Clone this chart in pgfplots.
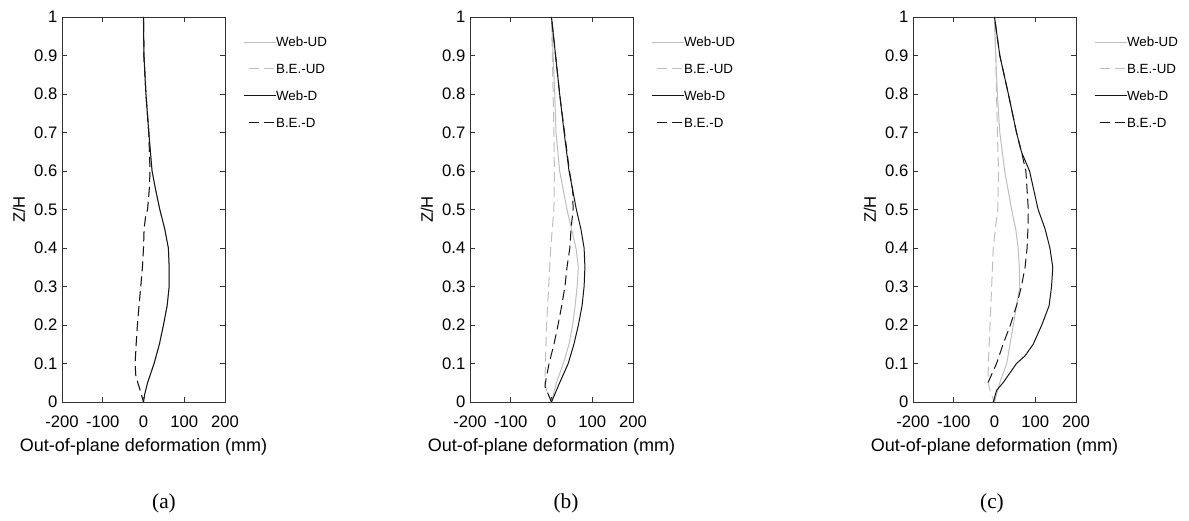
\documentclass[border=0pt]{standalone}
\usepackage{fontspec}
\setmainfont{Liberation Sans}
\newfontfamily\capfont{Liberation Serif}
\usepackage{pgfplots}
\pgfplotsset{compat=1.18}
\definecolor{lg}{RGB}{190,190,190}
\definecolor{dk}{RGB}{20,20,20}
\definecolor{ax}{RGB}{50,50,50}

\pgfplotsset{
 panel/.style={
  scale only axis, width=122.25pt, height=288.75pt,
  xmin=-200,xmax=200,ymin=0,ymax=1,
  xtick={-200,-100,0,100,200},
  ytick={0,0.1,0.2,0.3,0.4,0.5,0.6,0.7,0.8,0.9,1},
  yticklabels={0,0.1,0.2,0.3,0.4,0.5,0.6,0.7,0.8,0.9,1},
  tick align=inside, major tick length=3.5pt,
  xtick pos=both, ytick pos=both, xticklabel pos=lower, yticklabel pos=left,
  axis line style={draw=ax, line width=0.6pt},
  every tick/.style={ax, line width=0.6pt},
  /pgf/number format/assume math mode=true,
  ticklabel style={font=\fontsize{12.5}{14}\selectfont},
  xticklabel style={inner sep=1pt, yshift=-9pt},
  xlabel={Out-of-plane deformation (mm)},
  xlabel style={font=\fontsize{13.5}{16}\selectfont, at={(axis description cs:0.5,0)}, anchor=center, yshift=-34pt},
  ylabel={Z/H},
  ylabel style={font=\fontsize{12.5}{14}\selectfont},
  legend style={draw=none, fill=none, font=\fontsize{10}{12}\selectfont,
     at={(axis description cs:1.085,0.955)}, anchor=north west,
     nodes={inner sep=0pt, text height=7.2pt, text depth=0pt},
     row sep=13pt},
  legend cell align=left,
  legend image code/.code={\draw[##1] (0pt,0pt) -- (24pt,0pt);},
 },
 wud/.style={lg, line width=0.75pt},
 beud/.style={lg, line width=0.75pt, dash pattern=on 7.5pt off 3.75pt, dash phase=7.5pt},
 wd/.style={dk, line width=0.75pt},
 bed/.style={dk, line width=0.75pt, dash pattern=on 7.5pt off 3.75pt, dash phase=7.5pt},
}

\begin{document}
\begin{tikzpicture}
\path[use as bounding box] (0,0) rectangle (891.75pt,390.75pt);

% ---------------- (a) ----------------
\begin{axis}[panel, at={(46.5pt,89.25pt)}, anchor=south west]
\addplot[wud] coordinates {(0,1)(1,0.9)(6,0.8)(13,0.7)(21,0.6)(30,0.55)(40,0.5)(52,0.45)(61,0.4)(63,0.35)(63,0.3)(58,0.25)(49,0.2)(39,0.15)(26,0.1)(10,0.05)(3,0.02)(0,0)};
\addlegendentry{Web-UD}
\addplot[beud] coordinates {(0,1)(1,0.9)(6,0.8)(13,0.7)(16,0.6)(14,0.55)(10,0.5)(5,0.48)(1.5,0.45)(0,0.4)(-2.6,0.35)(-6.7,0.3)(-11,0.25)(-15,0.2)(-18,0.15)(-20.6,0.1)(-19,0.07)(-14,0.05)(-8,0.03)(0,0)};
\addlegendentry{B.E.-UD}
\addplot[wd] coordinates {(0,1)(1,0.9)(6,0.8)(13,0.7)(21,0.6)(30,0.55)(40,0.5)(52,0.45)(61,0.4)(63,0.35)(63,0.3)(58,0.25)(49,0.2)(39,0.15)(26,0.1)(10,0.05)(3,0.02)(0,0)};
\addlegendentry{Web-D}
\addplot[bed] coordinates {(0,1)(1,0.9)(6,0.8)(13,0.7)(16,0.6)(14,0.55)(10,0.5)(5,0.48)(1.5,0.45)(0,0.4)(-2.6,0.35)(-6.7,0.3)(-11,0.25)(-15,0.2)(-18,0.15)(-20.6,0.1)(-19,0.07)(-14,0.05)(-8,0.03)(0,0)};
\addlegendentry{B.E.-D}
\end{axis}

% ---------------- (b) ----------------
\begin{axis}[panel, at={(352.5pt,89.25pt)}, anchor=south west]
\addplot[wud] coordinates {(0,1)(4,0.9)(8,0.8)(11,0.7)(20,0.6)(38,0.5)(49,0.45)(60,0.4)(66,0.35)(63,0.3)(58,0.25)(52,0.2)(43,0.15)(29,0.1)(12,0.05)(0,0)};
\addlegendentry{Web-UD}
\addplot[beud] coordinates {(0,1)(2,0.9)(4,0.8)(6,0.7)(7,0.6)(6,0.5)(2,0.45)(-2,0.4)(-7,0.3)(-12,0.2)(-15,0.1)(-16,0.05)(-12,0.03)(0,0)};
\addlegendentry{B.E.-UD}
\addplot[wd] coordinates {(0,1)(10,0.9)(20,0.8)(31,0.7)(43,0.6)(61,0.5)(72,0.45)(80,0.4)(82,0.35)(80,0.3)(75,0.25)(66,0.2)(55,0.15)(41,0.1)(20,0.05)(0,0)};
\addlegendentry{Web-D}
\addplot[bed] coordinates {(0,1)(10,0.9)(20,0.8)(32,0.7)(44,0.6)(52,0.55)(53,0.5)(48,0.45)(45,0.4)(38,0.35)(33,0.3)(25,0.25)(16,0.2)(6,0.15)(-6,0.1)(-15,0.05)(-16,0.04)(-8,0.02)(0,0)};
\addlegendentry{B.E.-D}
\end{axis}

% ---------------- (c) ----------------
\begin{axis}[panel, at={(684.75pt,89.25pt)}, anchor=south west]
\addplot[wud] coordinates {(0,1)(3,0.9)(7,0.8)(13,0.7)(25,0.6)(42,0.5)(52,0.45)(58,0.4)(61,0.35)(62,0.3)(54,0.25)(46,0.2)(38,0.15)(30,0.1)(13,0.05)(0,0)};
\addlegendentry{Web-UD}
\addplot[beud] coordinates {(0,1)(3,0.9)(5,0.8)(7,0.7)(10,0.6)(8,0.5)(2,0.45)(-3,0.4)(-7,0.3)(-11,0.2)(-15,0.1)(-16,0.05)(-8,0.02)(0,0)};
\addlegendentry{B.E.-UD}
\addplot[wd] coordinates {(0,1)(13,0.9)(34,0.8)(54,0.7)(66,0.65)(86,0.6)(107,0.5)(124,0.45)(136,0.4)(143,0.35)(140,0.3)(134,0.25)(116,0.2)(95,0.15)(75,0.12)(54,0.1)(21,0.05)(5,0.03)(-3,0)};
\addlegendentry{Web-D}
\addplot[bed] coordinates {(0,1)(13,0.9)(34,0.8)(54,0.7)(66,0.65)(77,0.6)(80,0.55)(83,0.5)(82,0.45)(80,0.4)(75,0.35)(66,0.3)(54,0.25)(39,0.2)(21,0.15)(5,0.1)(-16,0.05)(-21,0.04)};
\addlegendentry{B.E.-D}
\end{axis}

\node[font=\capfont\fontsize{16}{18}\selectfont] at (123pt,13.5pt) {(a)};
\node[font=\capfont\fontsize{16}{18}\selectfont] at (424.5pt,13.5pt) {(b)};
\node[font=\capfont\fontsize{16}{18}\selectfont] at (744pt,13.5pt) {(c)};
\end{tikzpicture}
\end{document}
